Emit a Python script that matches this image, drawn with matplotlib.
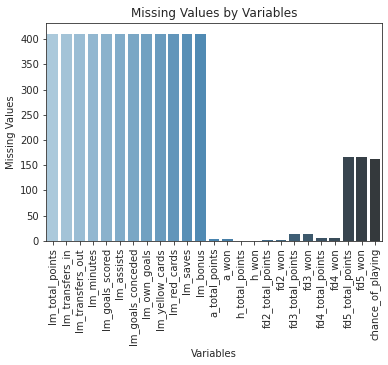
import matplotlib
matplotlib.use("Agg")
import matplotlib.pyplot as plt
import seaborn as sns

variables = ["lm_total_points", "lm_transfers_in", "lm_transfers_out", "lm_minutes",
             "lm_goals_scored", "lm_assists", "lm_goals_conceded", "lm_own_goals",
             "lm_yellow_cards", "lm_red_cards", "lm_saves", "lm_bonus",
             "a_total_points", "a_won", "h_total_points", "h_won",
             "fd2_total_points", "fd2_won", "fd3_total_points", "fd3_won",
             "fd4_total_points", "fd4_won", "fd5_total_points", "fd5_won",
             "chance_of_playing"]
missing = [411, 411, 411, 411, 411, 411, 411, 411, 411, 411, 411, 411,
           3, 3, 0, 0, 2, 2, 13, 13, 5, 5, 167, 167, 163]

sns.set_style("ticks")
fig = plt.figure(figsize=(388 / 72, 365 / 72), dpi=72)
ax = fig.add_axes([0.1186, 0.340, 0.8654, 0.596])
sns.barplot(x=variables, y=missing, hue=variables, palette="Blues_d", legend=False,
            linewidth=0, ax=ax)
ax.set_title("Missing Values by Variables")
ax.set_xlabel("Variables")
ax.set_ylabel("Missing Values")
ax.tick_params(axis="x", rotation=90)
fig.savefig("out.png", dpi=72)
